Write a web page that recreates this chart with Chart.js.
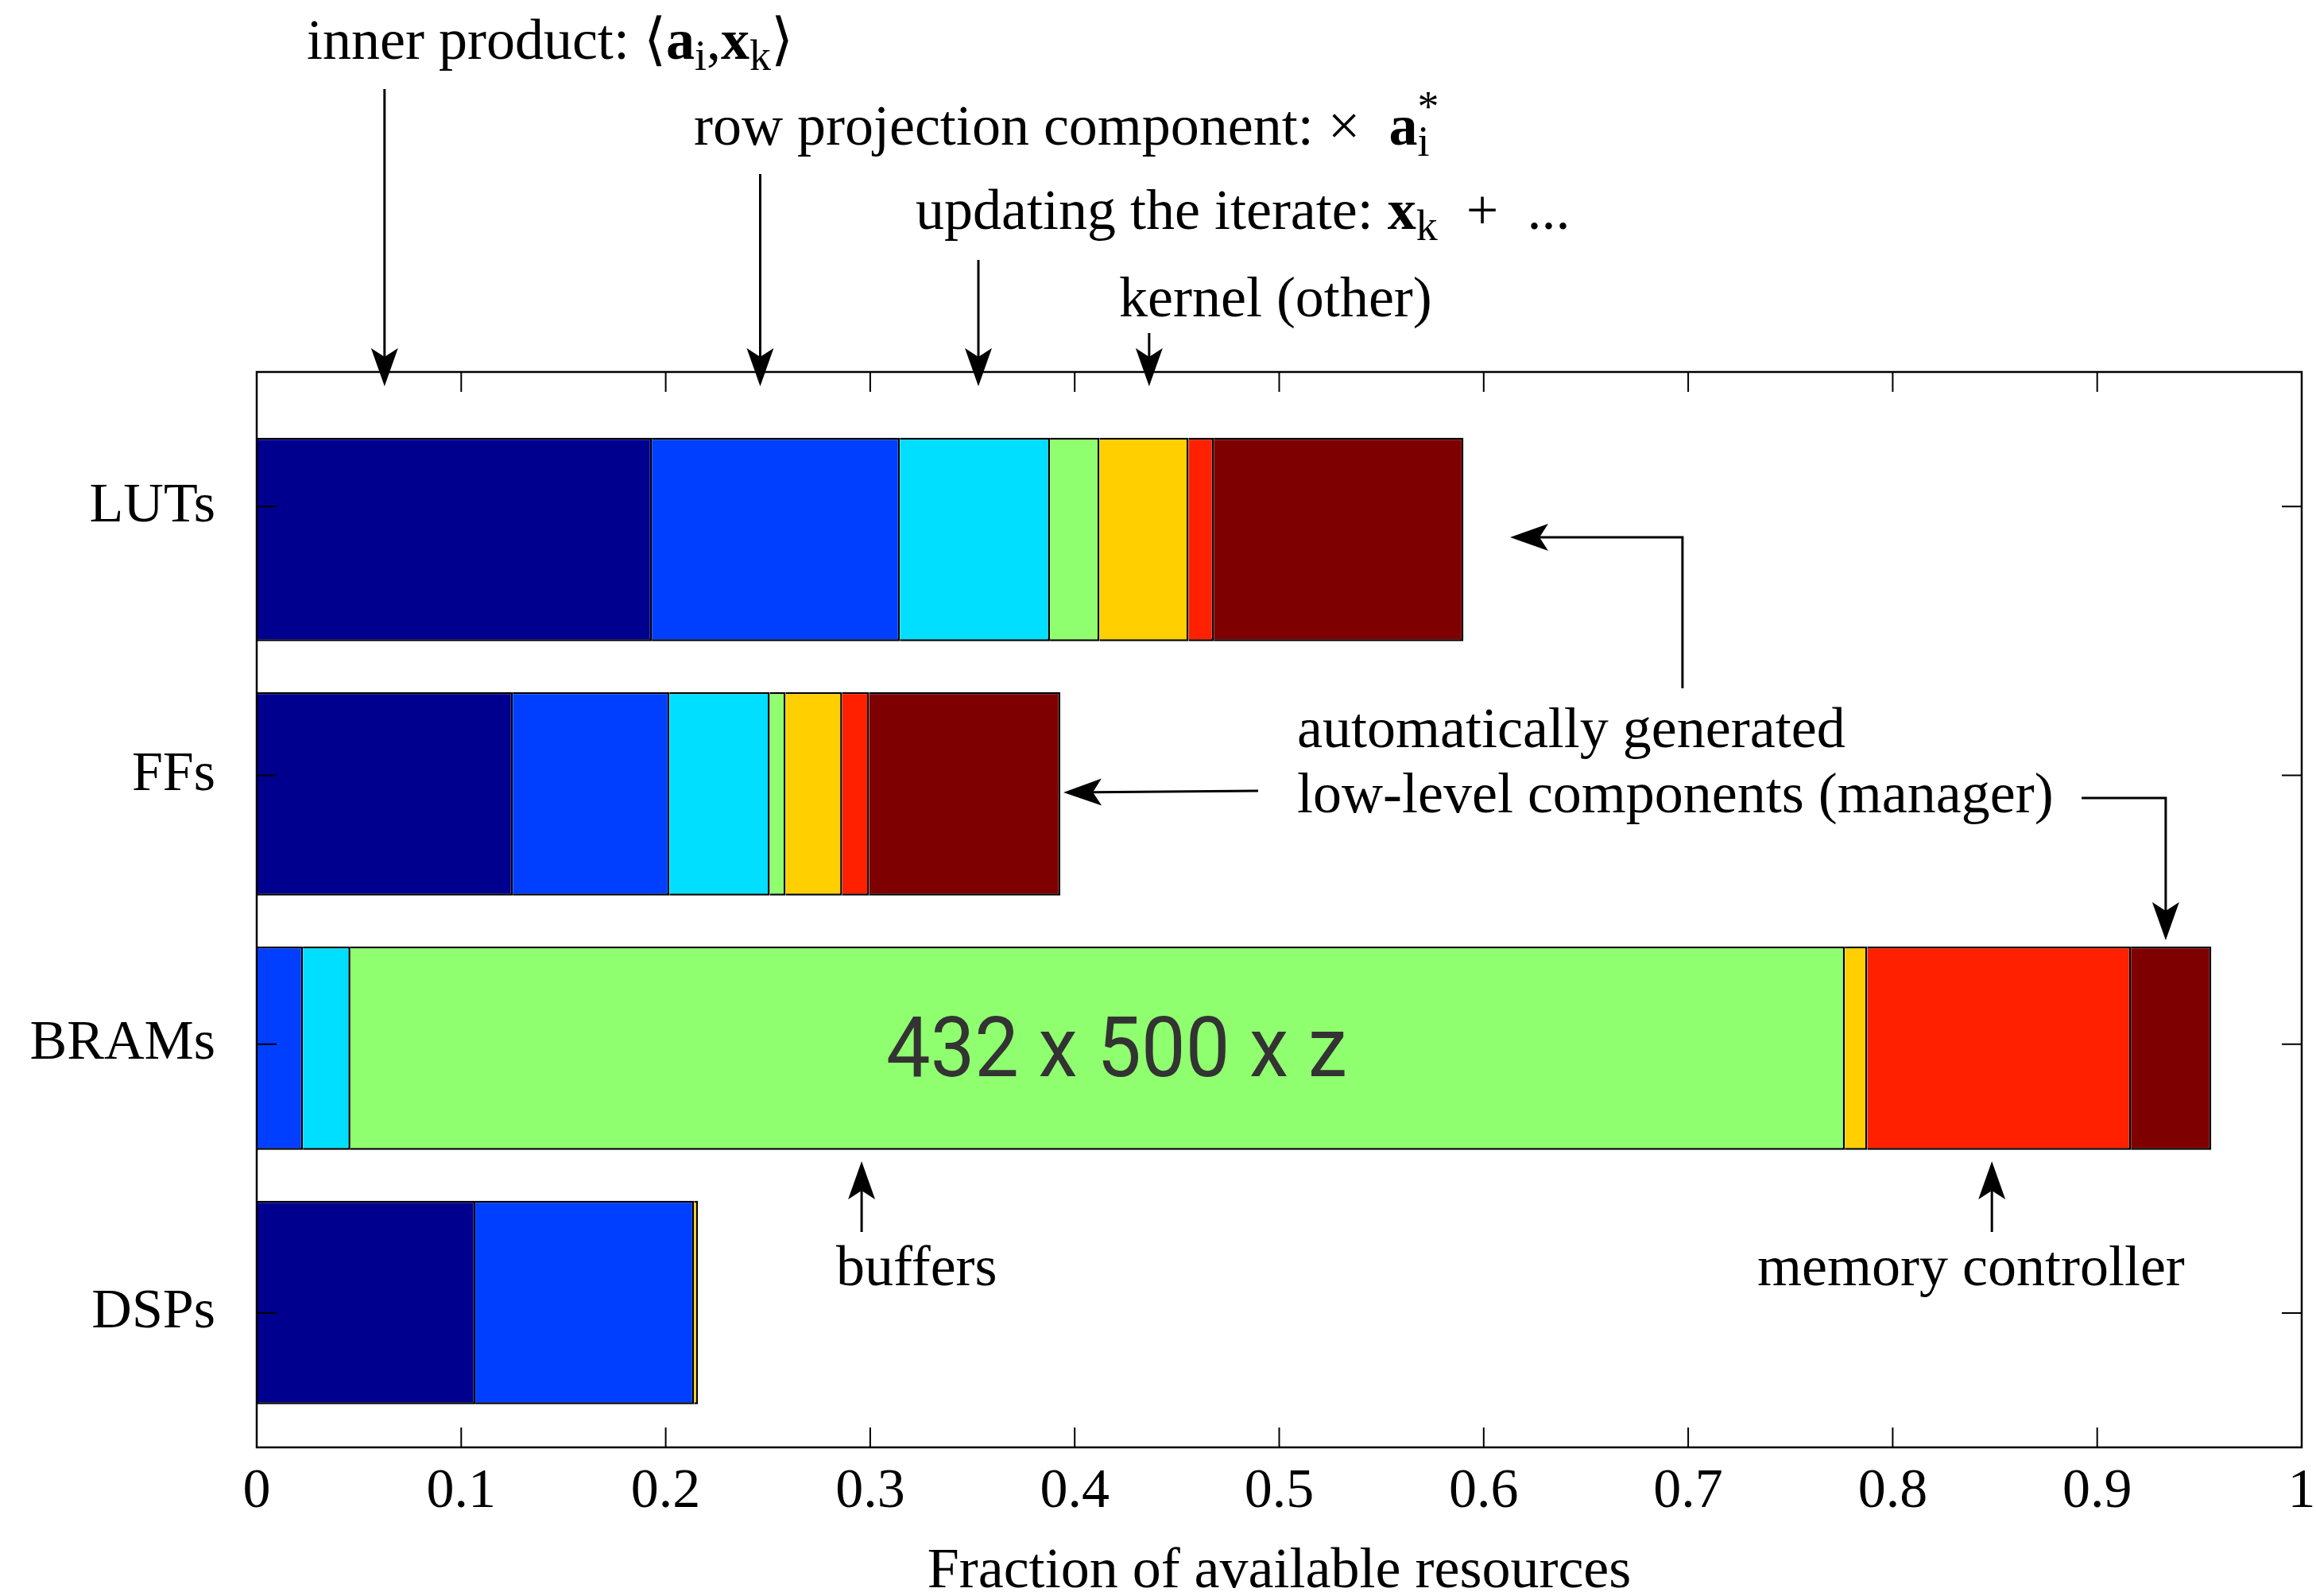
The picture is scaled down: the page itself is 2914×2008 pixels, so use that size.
<!DOCTYPE html>
<html>
<head>
<meta charset="utf-8">
<title>Fraction of available resources</title>
<script src="https://cdn.jsdelivr.net/npm/chart.js@4.4.1/dist/chart.umd.min.js"></script>
<style>
  body { margin: 0; background: #fff; }
  canvas { display: block; }
</style>
</head>
<body>
<canvas id="chart" width="2914" height="2008"></canvas>
<script>
// resource types, top to bottom
const categories = ['LUTs', 'FFs', 'BRAMs', 'DSPs'];

// fraction of available resources used by each component
const innerProduct  = [0.1932, 0.1252, 0.0,    0.1069];
const rowProjection = [0.1213, 0.0766, 0.0226, 0.1070];
const updateIterate = [0.0734, 0.0491, 0.0232, 0.0];
const buffers       = [0.0242, 0.0077, 0.7308, 0.0];
const kernelOther   = [0.0436, 0.0277, 0.0110, 0.0019];
const memController = [0.0123, 0.0132, 0.1289, 0.0];
const manager       = [0.1221, 0.0935, 0.0393, 0.0];

const xTickLabels = ['0', '0.1', '0.2', '0.3', '0.4', '0.5', '0.6', '0.7', '0.8', '0.9', '1'];

const series = [
  { label: 'inner product',     values: innerProduct,  color: '#00008F' },
  { label: 'row projection',    values: rowProjection, color: '#003FFF' },
  { label: 'updating iterate',  values: updateIterate, color: '#00DFFF' },
  { label: 'buffers',           values: buffers,       color: '#8FFF6F' },
  { label: 'kernel (other)',    values: kernelOther,   color: '#FFCF00' },
  { label: 'memory controller', values: memController, color: '#FF2000' },
  { label: 'manager',           values: manager,       color: '#7F0000' }
];

const SERIF = '"Liberation Serif", "DejaVu Serif", serif';
const FONT_SIZE = 72;
const TICK_SIZE = 70;

// bars sit on their own (hidden) axis, spaced a bit tighter than the tick labels
const BAR_AXIS_MIN = -0.6584;
const BAR_AXIS_MAX = 3.5697;

function drawRich(ctx, runs, x, y) {
  let cx = x;
  runs.forEach(function (r) {
    const size = (r.sub || r.sup) ? 54 : FONT_SIZE;
    ctx.font = (r.bold ? 'bold ' : '') + size + 'px ' + SERIF;
    const dy = r.sub ? 14 : (r.sup ? -30 : 0);
    ctx.fillText(r.t, cx, y + dy);
    if (!r.stay) cx += ctx.measureText(r.t).width;
  });
}

function arrow(ctx, pts) {
  const n = pts.length;
  const tip = pts[n - 1], prev = pts[n - 2];
  let dx = tip[0] - prev[0], dy = tip[1] - prev[1];
  const len = Math.hypot(dx, dy);
  dx /= len; dy /= len;
  const L = 48, W = 17, notch = 11;
  ctx.lineWidth = 3;
  ctx.beginPath();
  ctx.moveTo(pts[0][0], pts[0][1]);
  for (let i = 1; i < n - 1; i++) ctx.lineTo(pts[i][0], pts[i][1]);
  ctx.lineTo(tip[0] - dx * (L - notch), tip[1] - dy * (L - notch));
  ctx.stroke();
  const bx = tip[0] - dx * L, by = tip[1] - dy * L;
  ctx.beginPath();
  ctx.moveTo(tip[0], tip[1]);
  ctx.lineTo(bx - dy * W, by + dx * W);
  ctx.lineTo(tip[0] - dx * (L - notch), tip[1] - dy * (L - notch));
  ctx.lineTo(bx + dy * W, by - dx * W);
  ctx.closePath();
  ctx.fill();
}

// box round the plot with inward ticks on all four sides
const framePlugin = {
  id: 'frame',
  afterDraw(chart) {
    const { ctx, chartArea: a, scales } = chart;
    const tl = 25;
    ctx.save();
    ctx.strokeStyle = '#000';
    ctx.lineWidth = 2;
    ctx.beginPath();
    scales.x.ticks.forEach(function (t) {
      const px = scales.x.getPixelForValue(t.value);
      ctx.moveTo(px, a.bottom); ctx.lineTo(px, a.bottom - tl);
      ctx.moveTo(px, a.top); ctx.lineTo(px, a.top + tl);
    });
    categories.forEach(function (c, i) {
      const py = scales.y.getPixelForValue(i);
      ctx.moveTo(a.left, py); ctx.lineTo(a.left + tl, py);
      ctx.moveTo(a.right, py); ctx.lineTo(a.right - tl, py);
    });
    ctx.stroke();
    ctx.lineWidth = 2.5;
    ctx.strokeRect(a.left, a.top, a.right - a.left, a.bottom - a.top);
    ctx.restore();
  }
};

const notesPlugin = {
  id: 'notes',
  afterDraw(chart) {
    const { ctx, scales } = chart;
    const X = v => scales.x.getPixelForValue(v);
    const barY = i => scales.yb.getPixelForValue(i);
    ctx.save();
    ctx.strokeStyle = '#000';

    // label inside the buffer segment
    ctx.font = '106px Roboto, "Open Sans", sans-serif';
    ctx.fillStyle = '#333';
    ctx.textAlign = 'center';
    ctx.textBaseline = 'alphabetic';
    ctx.fillText('432 x 500 x z', X(0.4205), barY(2) + 35, 580);

    ctx.fillStyle = '#000';
    ctx.textAlign = 'left';
    drawRich(ctx, [{ t: 'inner product: \u27E8' }, { t: 'a', bold: true }, { t: 'i', sub: true },
      { t: ',' }, { t: 'x', bold: true }, { t: 'k', sub: true }, { t: '\u27E9' }], 386, 74);
    drawRich(ctx, [{ t: 'row projection component: \u00D7\u2002' }, { t: 'a', bold: true },
      { t: 'i', sub: true, stay: true }, { t: '*', sup: true }], 873, 182);
    drawRich(ctx, [{ t: 'updating the iterate: ' }, { t: 'x', bold: true }, { t: 'k', sub: true },
      { t: '\u2002+\u2002...' }], 1152, 288);
    drawRich(ctx, [{ t: 'kernel (other)' }], 1408, 398);
    drawRich(ctx, [{ t: 'automatically generated' }], 1632, 940);
    drawRich(ctx, [{ t: 'low-level components (manager)' }], 1632, 1022);
    drawRich(ctx, [{ t: 'buffers' }], 1052, 1617);
    drawRich(ctx, [{ t: 'memory controller' }], 2211, 1617);

    // arrows into the top of the plot
    arrow(ctx, [[X(0.0625), 112], [X(0.0625), 486]]);
    arrow(ctx, [[X(0.2462), 219], [X(0.2462), 486]]);
    arrow(ctx, [[X(0.3529), 327], [X(0.3529), 486]]);
    arrow(ctx, [[X(0.4364), 419], [X(0.4364), 486]]);

    // manager arrows
    arrow(ctx, [[X(0.6972), 866], [X(0.6972), 676], [X(0.6129), 676]]);
    arrow(ctx, [[X(0.4897), 995], [X(0.3945), 997]]);
    arrow(ctx, [[X(0.8924), 1004], [X(0.9335), 1004], [X(0.9335), 1183]]);

    // buffers / memory controller arrows
    arrow(ctx, [[X(0.2958), 1550], [X(0.2958), 1461]]);
    arrow(ctx, [[X(0.8485), 1550], [X(0.8485), 1461]]);
    ctx.restore();
  }
};

const datasets = series.map(function (s) {
  return {
    label: s.label,
    data: s.values.map((v, i) => ({ x: v, y: i })),
    backgroundColor: s.color,
    borderColor: '#000',
    borderWidth: 2.5,
    borderSkipped: 'start',
    xAxisID: 'x',
    yAxisID: 'yb',
    barPercentage: 0.8,
    categoryPercentage: 1
  };
});

new Chart(document.getElementById('chart'), {
  type: 'bar',
  data: { labels: categories, datasets: datasets },
  options: {
    indexAxis: 'y',
    responsive: false,
    devicePixelRatio: 1,
    animation: false,
    layout: { padding: { top: 468, right: 18, left: 0, bottom: 0 } },
    plugins: { legend: { display: false }, tooltip: { enabled: false } },
    scales: {
      x: {
        type: 'linear',
        position: 'bottom',
        min: 0,
        max: 1,
        stacked: true,
        grid: { display: false, drawTicks: false },
        border: { display: false },
        ticks: {
          stepSize: 0.1,
          padding: 15,
          color: '#000',
          font: { family: SERIF, size: TICK_SIZE },
          callback: v => xTickLabels[Math.round(v * 10)]
        },
        title: {
          display: true,
          text: 'Fraction of available resources',
          color: '#000',
          font: { family: SERIF, size: FONT_SIZE, lineHeight: 0.84 },
          padding: 0
        },
        afterFit(scale) {
          scale.height = 187;
          scale.paddingLeft = 0;
          scale.paddingRight = 0;
        }
      },
      y: {
        type: 'category',
        position: 'left',
        labels: categories,
        offset: true,
        grid: { display: false, drawTicks: false },
        border: { display: false },
        ticks: { padding: 52, color: '#000', font: { family: SERIF, size: TICK_SIZE } },
        afterFit(scale) { scale.width = 323; }
      },
      yb: {
        type: 'linear',
        position: 'left',
        display: false,
        reverse: true,
        stacked: true,
        offset: false,
        min: BAR_AXIS_MIN,
        max: BAR_AXIS_MAX,
        grid: { offset: false },
        afterBuildTicks(scale) { scale.ticks = categories.map((c, i) => ({ value: i })); }
      }
    }
  },
  plugins: [framePlugin, notesPlugin]
});
</script>
</body>
</html>
